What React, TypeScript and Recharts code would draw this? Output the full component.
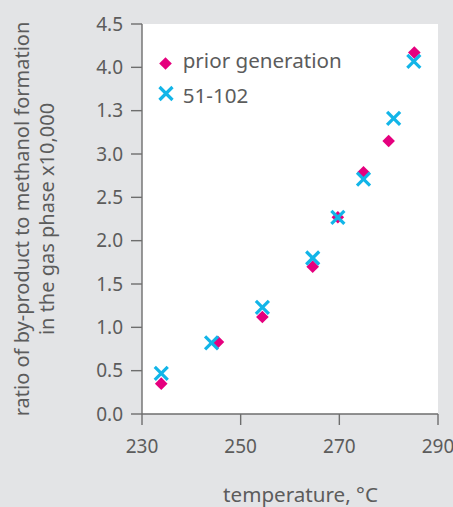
import { ScatterChart, Scatter, XAxis, YAxis, CartesianGrid, Legend } from 'recharts';

// values
const priorTemps = [233.9, 245.4, 254.4, 264.6, 269.7, 274.9, 280.0, 285.2];
const priorRatios = [0.35, 0.83, 1.12, 1.7, 2.27, 2.79, 3.15, 4.17];
const newTemps = [233.9, 244.1, 254.4, 264.6, 269.7, 274.9, 281.0, 285.1];
const newRatios = [0.47, 0.82, 1.23, 1.8, 2.27, 2.71, 3.41, 4.07];

const seriesNames = ['prior generation', '51-102'];
const xTicks = [230, 250, 270, 290];
const yTicks = [0, 0.5, 1, 1.5, 2, 2.5, 3, 3.5, 4, 4.5];
// the original figure labels the 3.5 gridline "1.3"
const yTickLabels = ['0.0', '0.5', '1.0', '1.5', '2.0', '2.5', '3.0', '1.3', '4.0', '4.5'];
const yTitleLines = ['ratio of by-product to methanol formation', 'in the gas phase x10,000'];
const xTitle = 'temperature, °C';

const BG = '#e3e4e6';
const MAGENTA = '#e5007e';
const CYAN = '#12b5e8';
const TEXT = '#5c5c5c';
const AXIS = '#6e6e6e';
const FONT = '"Noto Sans", sans-serif';

const priorData = priorTemps.map((t, i) => ({ t, r: priorRatios[i] }));
const newData = newTemps.map((t, i) => ({ t, r: newRatios[i] }));

const Diamond = ({ cx, cy }: any) => (
  <polygon
    points={`${cx},${cy - 6.3} ${cx + 6.3},${cy} ${cx},${cy + 6.3} ${cx - 6.3},${cy}`}
    fill={MAGENTA}
  />
);

const Cross = ({ cx, cy }: any) => (
  <g stroke={CYAN} strokeWidth={3.2}>
    <line x1={cx - 6.5} y1={cy - 6.5} x2={cx + 6.5} y2={cy + 6.5} />
    <line x1={cx - 6.5} y1={cy + 6.5} x2={cx + 6.5} y2={cy - 6.5} />
  </g>
);

const renderLegend = (props: any) => {
  const items = [...(props.payload || [])].sort(
    (a: any, b: any) => seriesNames.indexOf(a.value) - seriesNames.indexOf(b.value)
  );
  return (
    <svg width={200} height={70} style={{ overflow: 'visible' }}>
      {items.map((entry: any, i: number) => (
        <g key={entry.value}>
          {i === 0 ? <Diamond cx={10.5} cy={18.5} /> : <Cross cx={11} cy={48.5} />}
          <text x={27.7} y={i === 0 ? 22.8 : 58} fill={TEXT} fontSize={20.6} fontFamily={FONT}>
            {entry.value}
          </text>
        </g>
      ))}
    </svg>
  );
};

const YTitle = () => (
  <text transform="rotate(-90)" fill={TEXT} fontSize={20} fontFamily={FONT} textAnchor="middle">
    <tspan x={-219} y={29}>{yTitleLines[0]}</tspan>
    <tspan x={-219} y={54}>{yTitleLines[1]}</tspan>
  </text>
);

const XTitle = () => (
  <text x={300.5} y={502} fill={TEXT} fontSize={20.6} fontFamily={FONT} textAnchor="middle">
    {xTitle}
  </text>
);

export default function App() {
  const tickStyle = { fill: TEXT, fontSize: 19, fontFamily: FONT };
  return (
    <div style={{ position: 'absolute', left: 0, top: 0, width: 453, height: 507, background: BG }}>
      <ScatterChart width={453} height={507} margin={{ top: 24, right: 15, bottom: 53, left: 82 }}>
        <CartesianGrid horizontal={false} vertical={false} fill="#ffffff" />
        <XAxis
          type="number"
          dataKey="t"
          domain={[230, 290]}
          ticks={xTicks}
          interval={0}
          height={40}
          tickSize={11}
          tickMargin={15}
          tick={tickStyle}
          stroke={AXIS}
          strokeWidth={1.4}
          label={{ content: () => <XTitle /> }}
        />
        <YAxis
          type="number"
          dataKey="r"
          domain={[0, 4.5]}
          ticks={yTicks}
          interval={0}
          width={60}
          tickSize={11}
          tickMargin={8}
          tick={tickStyle}
          tickFormatter={(v: number) => yTickLabels[yTicks.indexOf(v)]}
          stroke={AXIS}
          strokeWidth={1.4}
          label={{ content: () => <YTitle /> }}
        />
        <Legend
          layout="vertical"
          align="center"
          verticalAlign="middle"
          content={renderLegend}
          wrapperStyle={{ left: 155, top: 45, width: 200, height: 70 }}
        />
        <Scatter
          name={seriesNames[0]}
          data={priorData}
          shape={(p: any) => <Diamond cx={p.cx} cy={p.cy} />}
          isAnimationActive={false}
        />
        <Scatter
          name={seriesNames[1]}
          data={newData}
          shape={(p: any) => <Cross cx={p.cx} cy={p.cy} />}
          isAnimationActive={false}
        />
      </ScatterChart>
    </div>
  );
}
